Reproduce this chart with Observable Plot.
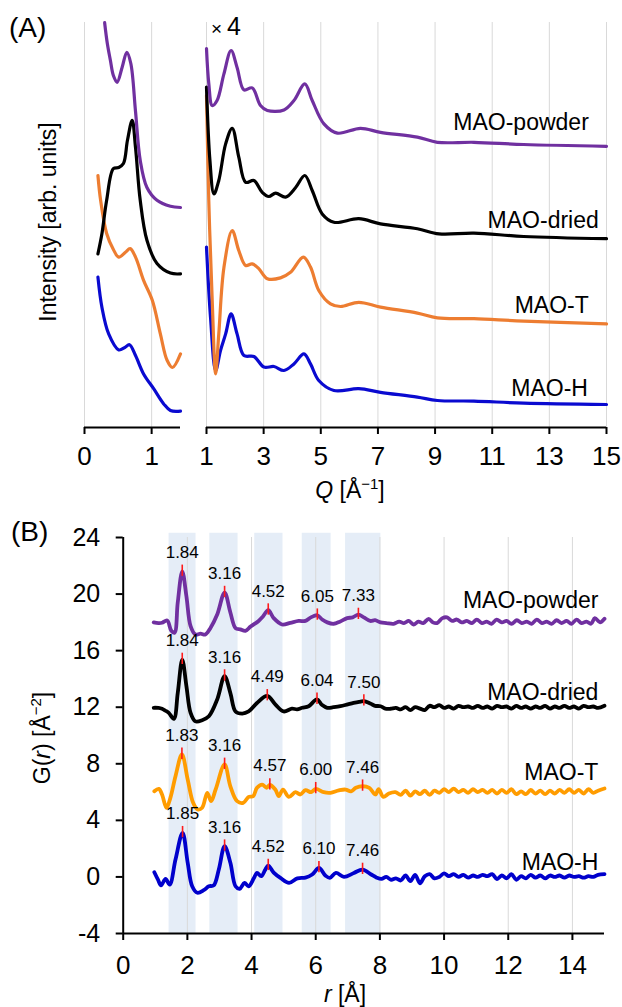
<!DOCTYPE html>
<html>
<head>
<meta charset="utf-8">
<script src="https://cdn.jsdelivr.net/npm/d3@7"></script>
<script src="https://cdn.jsdelivr.net/npm/@observablehq/plot@0.6"></script>
<style>
  html, body { margin: 0; padding: 0; background: #fff; }
  #fig { position: relative; width: 622px; height: 1007px; background: #fff;
         font-family: "Liberation Sans", Arial, sans-serif; color: #000; overflow: hidden; }
  #fig .chart { position: absolute; }
  #fig .lbl { position: absolute; white-space: nowrap; line-height: 1; }
  .sup { font-size: 15px; position: relative; top: -9px; }
</style>
</head>
<body>
<div id="fig"></div>
<script>
// ---------- (A) structure factor, low-Q part (Q in Å⁻¹, intensity in arb. units) ----------
const sLowPowder = [[0.30,101.2],[0.34,96],[0.386,91.75],[0.43,88],[0.485,86.3],[0.56,90],[0.63,93.8],[0.69,91],[0.76,79],[0.83,66.8],[0.93,60],[1.08,56.8],[1.28,55.3],[1.43,55]];
const sLowDried  = [[0.20,43.4],[0.26,48.5],[0.33,56.8],[0.43,64.7],[0.51,65],[0.58,66],[0.64,71.8],[0.71,76.8],[0.76,70],[0.83,56.8],[0.93,46.8],[1.08,41],[1.28,38.6],[1.43,38.4]];
const sLowT      = [[0.20,63],[0.24,56.8],[0.33,48.5],[0.43,44.5],[0.51,42.6],[0.61,43.8],[0.68,44.7],[0.76,42.6],[0.88,36.8],[1.01,31.8],[1.13,23.4],[1.23,16.8],[1.31,15],[1.43,18.4]];
const sLowH      = [[0.20,37.6],[0.26,30],[0.36,23.4],[0.51,19.4],[0.60,20],[0.67,20.7],[0.76,18],[0.88,13.4],[1.03,9.7],[1.18,5.9],[1.28,4.25],[1.43,4.1]];

// ---------- (A) high-Q part, intensity ×4 ----------
const sHighPowder = [[1.0,94.7],[1.08,86],[1.2,80.5],[1.37,81.75],[1.61,88.4],[1.86,94.25],[2.07,90],[2.31,84.4],[2.6,84.9],[2.89,80.5],[3.13,79.25],[3.71,79.4],[4.06,81.75],[4.44,85.9],[4.7,81.75],[5.11,75.9],[5.58,73.6],[6.39,74.8],[7.09,73.8],[8.38,72.6],[9.08,71.3],[10.36,71.3],[12.1,70.75],[15,70.3]];
const sHighDried  = [[1.0,85.1],[1.12,66.75],[1.26,58.4],[1.43,61.75],[1.67,70.9],[1.9,74.8],[2.13,67.6],[2.37,61.3],[2.66,61.75],[2.95,58.8],[3.18,57.75],[3.42,58.6],[3.77,57.6],[4.12,60],[4.44,63],[4.7,59.25],[5.05,53.4],[5.46,51.3],[6.33,52.2],[7.09,50.9],[8.38,49.7],[9.14,48.4],[10.36,48.6],[12.1,47.75],[15,47.2]];
const sHighT      = [[1.0,83],[1.08,56.75],[1.2,31.75],[1.32,13.4],[1.43,23.4],[1.61,40],[1.9,49.25],[2.13,44.25],[2.37,40.5],[2.6,40.9],[2.83,39.7],[3.13,37.2],[3.59,37.4],[3.94,38.8],[4.39,42.6],[4.64,40.1],[4.93,34.25],[5.34,30.9],[5.69,30.25],[6.33,31.3],[7.09,30.1],[8.38,28.6],[9.08,27.4],[10.36,27.2],[12.1,26.6],[15,25.9]];
const sHighH      = [[1.0,45.1],[1.14,27.6],[1.32,14.25],[1.49,19.25],[1.67,23.4],[1.86,28.4],[2.07,23.4],[2.31,18],[2.66,17.75],[3.01,15.1],[3.36,15.25],[3.71,14.25],[4.06,15.9],[4.41,18.4],[4.64,15.9],[4.93,11.75],[5.46,9.25],[6.33,9.7],[7.09,8.8],[8.38,7.6],[9.08,6.75],[10.36,6.6],[12.1,6.1],[15,5.75]];

const ticksLowQ  = [0, 1];
const ticksHighQ = [1, 3, 5, 7, 9, 11, 13, 15];
const sampleNames = ["MAO-powder", "MAO-dried", "MAO-T", "MAO-H"];

// ---------- (B) pair distribution functions G(r), r in Å ----------
const gPowder = [[0.95,18.0],[1.1,17.95],[1.21,17.97],[1.37,18.13],[1.5,17.4],[1.6,17.26],[1.7,19.4],[1.84,21.6],[1.97,19.85],[2.1,17.73],[2.25,17.14],[2.41,17.2],[2.56,17.14],[2.72,17.6],[2.93,18.55],[3.16,20.1],[3.34,18.7],[3.5,17.6],[3.65,17.5],[3.81,17.4],[3.97,17.7],[4.22,18.1],[4.35,18.4],[4.52,18.86],[4.69,18.3],[4.95,17.85],[5.21,17.97],[5.47,18.1],[5.68,18.1],[5.85,18.35],[6.05,18.5],[6.2,18.2],[6.36,18.0],[6.56,17.9],[6.75,18.05],[6.98,18.3],[7.15,18.35],[7.33,18.55],[7.5,18.35],[7.7,18.1],[7.85,18.15],[8.02,18.0],[8.2,17.95],[8.43,17.9],[8.6,18.05],[8.75,17.95],[8.9,18.1],[9.05,17.85],[9.2,18.05],[9.35,17.95],[9.52,18.25],[9.65,18.0],[9.78,17.95],[9.95,18.3],[10.09,18.35],[10.25,18.1],[10.4,18.2],[10.55,18.0],[10.71,18.1],[10.87,17.95],[11.02,18.2],[11.18,17.95],[11.33,18.05],[11.48,17.9],[11.64,18.2],[11.8,18.0],[11.95,18.1],[12.1,17.9],[12.27,18.15],[12.42,17.95],[12.58,18.05],[12.73,17.9],[12.89,18.2],[13.05,17.95],[13.2,18.05],[13.35,17.9],[13.51,18.15],[13.66,17.95],[13.82,18.1],[13.97,17.9],[14.13,18.2],[14.28,17.95],[14.44,18.05],[14.58,17.9],[14.7,18.3],[14.86,18.0],[15.0,18.25]];
const gDried = [[0.95,11.96],[1.1,11.95],[1.21,11.89],[1.32,11.75],[1.42,11.6],[1.58,11.18],[1.7,13.0],[1.84,15.37],[1.97,13.49],[2.1,11.6],[2.25,11.0],[2.46,11.08],[2.67,11.36],[2.93,12.55],[3.16,14.2],[3.34,13.0],[3.5,11.7],[3.71,11.55],[3.91,11.7],[4.17,12.3],[4.49,12.8],[4.74,12.2],[5.0,11.7],[5.26,11.9],[5.42,11.85],[5.58,11.96],[5.78,12.07],[6.04,12.55],[6.2,12.15],[6.36,11.96],[6.55,12.0],[6.77,12.07],[7.0,12.2],[7.18,12.3],[7.35,12.38],[7.5,12.43],[7.7,12.26],[7.85,12.1],[8.02,12.07],[8.17,11.9],[8.33,11.89],[8.5,11.95],[8.65,11.85],[8.8,12.0],[8.95,11.8],[9.1,12.0],[9.25,11.9],[9.4,11.8],[9.55,12.1],[9.7,12.0],[9.85,12.15],[10.0,11.95],[10.15,12.05],[10.3,11.9],[10.45,12.1],[10.6,12.0],[10.75,12.05],[10.9,11.95],[11.05,12.1],[11.2,11.95],[11.35,12.05],[11.5,11.9],[11.65,12.1],[11.8,12.0],[11.95,12.05],[12.1,11.9],[12.25,12.1],[12.4,11.95],[12.55,12.05],[12.7,11.9],[12.85,12.05],[13.0,11.95],[13.15,12.1],[13.3,11.9],[13.45,12.05],[13.6,11.95],[13.75,12.1],[13.9,11.95],[14.05,12.05],[14.2,11.9],[14.35,12.1],[14.5,12.0],[14.65,12.05],[14.8,11.95],[15.0,12.1]];
const gT = [[0.97,6.06],[1.11,6.23],[1.21,5.83],[1.35,4.89],[1.47,5.59],[1.63,7.12],[1.83,8.66],[2.01,6.89],[2.18,5.24],[2.32,4.77],[2.46,4.89],[2.62,5.95],[2.74,5.36],[2.88,6.18],[3.16,7.95],[3.34,6.41],[3.55,5.36],[3.74,5.24],[3.91,5.66],[4.05,5.7],[4.17,6.3],[4.33,6.53],[4.47,6.3],[4.57,6.5],[4.74,6.18],[4.85,5.71],[4.98,6.18],[5.16,5.66],[5.37,5.99],[5.52,5.83],[5.68,6.13],[5.86,5.99],[6.0,6.23],[6.25,5.99],[6.46,5.95],[6.72,6.12],[6.93,6.18],[7.1,6.05],[7.25,6.3],[7.46,6.41],[7.67,6.3],[7.86,5.83],[7.96,6.2],[8.11,5.66],[8.28,5.9],[8.48,6.0],[8.65,5.8],[8.8,6.1],[8.95,5.75],[9.1,6.05],[9.25,5.85],[9.4,6.1],[9.55,5.8],[9.7,6.1],[9.85,5.95],[10.0,6.2],[10.15,6.0],[10.3,6.25],[10.45,6.0],[10.6,6.15],[10.75,5.95],[10.9,6.2],[11.05,6.0],[11.2,6.15],[11.35,5.95],[11.5,6.15],[11.65,5.9],[11.8,6.15],[11.95,5.95],[12.1,6.2],[12.25,5.85],[12.4,6.05],[12.55,5.85],[12.7,6.15],[12.85,5.9],[13.0,6.1],[13.15,5.85],[13.3,6.1],[13.45,5.9],[13.6,6.15],[13.75,5.95],[13.9,6.2],[14.05,5.95],[14.2,6.15],[14.35,5.9],[14.5,6.2],[14.65,5.95],[14.8,6.1],[15.0,6.25]];
const gH = [[0.97,0.33],[1.08,-0.18],[1.18,-0.6],[1.32,-0.14],[1.45,-0.54],[1.63,1.23],[1.85,3.12],[2.01,1.0],[2.15,-0.66],[2.31,-1.12],[2.51,-0.94],[2.67,-0.66],[2.82,-0.6],[2.98,0.52],[3.16,2.17],[3.34,1.0],[3.5,-0.66],[3.63,-0.84],[3.78,-0.42],[3.91,-0.66],[4.07,-0.1],[4.17,0.29],[4.3,0.05],[4.43,0.52],[4.52,0.8],[4.69,0.3],[4.9,-0.07],[5.17,-0.42],[5.43,-0.1],[5.68,-0.05],[5.89,0.17],[6.1,0.64],[6.3,0.1],[6.44,-0.07],[6.63,0.28],[6.88,0.0],[7.19,0.28],[7.46,0.52],[7.73,0.17],[7.9,-0.05],[8.05,-0.14],[8.2,0.0],[8.35,-0.2],[8.5,-0.1],[8.65,-0.25],[8.8,0.1],[8.95,-0.3],[9.1,0.15],[9.25,-0.45],[9.4,0.05],[9.55,0.2],[9.7,-0.1],[9.85,0.0],[10.0,0.25],[10.15,0.05],[10.3,0.2],[10.45,0.0],[10.6,0.15],[10.75,-0.05],[10.9,0.1],[11.05,0.0],[11.2,0.15],[11.35,0.05],[11.5,0.2],[11.65,-0.15],[11.8,0.1],[11.95,-0.1],[12.1,0.2],[12.25,-0.2],[12.4,0.05],[12.55,-0.1],[12.7,0.15],[12.85,-0.05],[13.0,0.1],[13.15,-0.1],[13.3,0.1],[13.45,0.0],[13.6,0.1],[13.75,-0.05],[13.9,0.1],[14.05,0.0],[14.2,0.05],[14.35,-0.05],[14.5,0.05],[14.65,0.0],[14.8,0.15],[15.0,0.2]];

// labelled peak maxima [r, G(r)]
const peaksPowder = [[1.84,21.6],[3.16,20.1],[4.52,18.86],[6.05,18.5],[7.33,18.55]];
const peaksDried  = [[1.84,15.37],[3.16,14.2],[4.49,12.8],[6.04,12.55],[7.50,12.43]];
const peaksT      = [[1.83,8.66],[3.16,7.95],[4.57,6.5],[6.00,6.23],[7.46,6.41]];
const peaksH      = [[1.85,3.12],[3.16,2.17],[4.52,0.8],[6.10,0.64],[7.46,0.52]];

// shaded r ranges of the coordination shells
const shellFrom = [1.43, 2.70, 4.10, 5.58, 6.93];
const shellTo   = [2.27, 3.58, 4.98, 6.48, 8.03];

const ticksR = [0, 2, 4, 6, 8, 10, 12, 14];
const ticksG = [-4, 0, 4, 8, 12, 16, 20, 24];

// ---------- drawing ----------
const FONT = '"Liberation Sans", Arial, Helvetica, sans-serif';
const colA = {powder: "#7030a0", dried: "#000000", T: "#ed7d31", H: "#0a0ad0"};
const colB = {powder: "#7030a0", dried: "#000000", T: "#ff9c00", H: "#0000cc"};
const fig = document.getElementById("fig");
const baseStyle = {fontFamily: FONT, color: "#000", background: "transparent", overflow: "visible"};
const px = d => d[0], py = d => d[1];

function place(node, left, top) {
  node.classList.add("chart");
  node.style.left = left + "px";
  node.style.top = top + "px";
  fig.appendChild(node);
}
function label(html, left, top, css = "") {
  const d = document.createElement("div");
  d.className = "lbl";
  d.innerHTML = html;
  d.style.cssText += `left:${left}px;top:${top}px;${css}`;
  fig.appendChild(d);
  return d;
}
const lineA = (data, c) => Plot.line(data, {x: px, y: py, stroke: c, strokeWidth: 3.2, curve: "catmull-rom"});
const lineB = (data, c) => Plot.line(data, {x: px, y: py, stroke: c, strokeWidth: 3.8, curve: "catmull-rom"});

// (A) low-Q panel
place(Plot.plot({
  width: 195, height: 480,
  marginLeft: 84, marginRight: 15, marginTop: 22, marginBottom: 53,
  x: {domain: [0, 1.43]},
  y: {domain: [0, 101.25], axis: null},
  style: baseStyle,
  marks: [
    Plot.ruleX(ticksLowQ, {stroke: "#d9d9d9", strokeWidth: 1}),
    lineA(sLowH, colA.H), lineA(sLowT, colA.T), lineA(sLowDried, colA.dried), lineA(sLowPowder, colA.powder),
    Plot.ruleY([0], {stroke: "#000", strokeWidth: 2}),
    Plot.axisX(ticksLowQ, {tickSize: 7, strokeWidth: 2, tickPadding: 12, fontSize: 26, label: null, tickFormat: d => String(d)})
  ]
}), 0, 0);

// (A) high-Q panel (×4)
place(Plot.plot({
  width: 427, height: 480,
  marginLeft: 11, marginRight: 16, marginTop: 22, marginBottom: 53,
  x: {domain: [1, 15]},
  y: {domain: [0, 101.25], axis: null},
  style: baseStyle,
  marks: [
    Plot.ruleX(ticksHighQ, {stroke: "#d9d9d9", strokeWidth: 1}),
    lineA(sHighH, colA.H), lineA(sHighT, colA.T), lineA(sHighDried, colA.dried), lineA(sHighPowder, colA.powder),
    Plot.ruleY([0], {stroke: "#000", strokeWidth: 2}),
    Plot.axisX(ticksHighQ, {tickSize: 7, strokeWidth: 2, tickPadding: 12, fontSize: 26, label: null, tickFormat: d => String(d)}),
    Plot.text(sampleNames, {x: [14.38, 14.73, 14.38, 14.35], y: [76.25, 51.75, 30.5, 9.75], text: d => d,
      textAnchor: "end", fontSize: 23, fill: "#000"})
  ]
}), 195, 0);

// (B) G(r) panel
const peakMarks = (peaks) => [
  Plot.ruleX(peaks, {x: px, y1: d => d[1] - 0.35, y2: d => d[1] + 0.45, stroke: "#ff1a1a", strokeWidth: 1.6}),
  Plot.text(peaks, {x: px, y: py, text: d => d[0].toFixed(2), dy: -19, fontSize: 17, fill: "#000"})
];
place(Plot.plot({
  width: 622, height: 507,
  marginLeft: 122.7, marginRight: 18, marginTop: 37, marginBottom: 74,
  x: {domain: [0, 15]},
  y: {domain: [-4, 24]},
  style: baseStyle,
  marks: [
    Plot.rect(shellFrom.map((a, i) => [a, shellTo[i]]), {x1: d => d[0], x2: d => d[1], y1: -4, y2: 24.3, fill: "#e5edf7"}),
    Plot.ruleX(ticksR.slice(1), {stroke: "#d9d9d9", strokeWidth: 1}),
    lineB(gH, colB.H), lineB(gT, colB.T), lineB(gDried, colB.dried), lineB(gPowder, colB.powder),
    ...peakMarks(peaksPowder), ...peakMarks(peaksDried), ...peakMarks(peaksT), ...peakMarks(peaksH),
    Plot.text(sampleNames, {x: 14.81, y: [19.57, 13.04, 7.38, 1.04], text: d => d,
      textAnchor: "end", fontSize: 23, fill: "#000"}),
    Plot.ruleY([-4], {stroke: "#000", strokeWidth: 2}),
    Plot.ruleX([0], {stroke: "#000", strokeWidth: 2}),
    Plot.axisX(ticksR, {tickSize: 7, strokeWidth: 2, tickPadding: 15, fontSize: 26, label: null, tickFormat: d => String(d)}),
    Plot.axisY(ticksG, {tickSize: 7, strokeWidth: 2, tickPadding: 16, fontSize: 25, label: null, tickFormat: d => String(d)})
  ]
}), 0, 500);

// panel letters and axis titles
label("(A)", 9, 14, "font-size:28px");
label("(B)", 11, 518, "font-size:28px");
label('<span style="font-size:19px">×</span>&thinsp;4', 211, 14, "font-size:25px");
label("Intensity [arb. units]", 48, 222, "font-size:23px;transform:translate(-50%,-50%) rotate(-90deg)");
label('<i>Q</i> [Å<span class="sup">−1</span>]', 350, 490, "font-size:23px;transform:translate(-50%,-50%)");
label('G(<i>r</i>) [Å<span class="sup">−2</span>]', 42, 738, "font-size:23px;transform:translate(-50%,-50%) rotate(-90deg)");
label('<i>r</i> [Å]', 345, 994, "font-size:23px;transform:translate(-50%,-50%)");
</script>
</body>
</html>
